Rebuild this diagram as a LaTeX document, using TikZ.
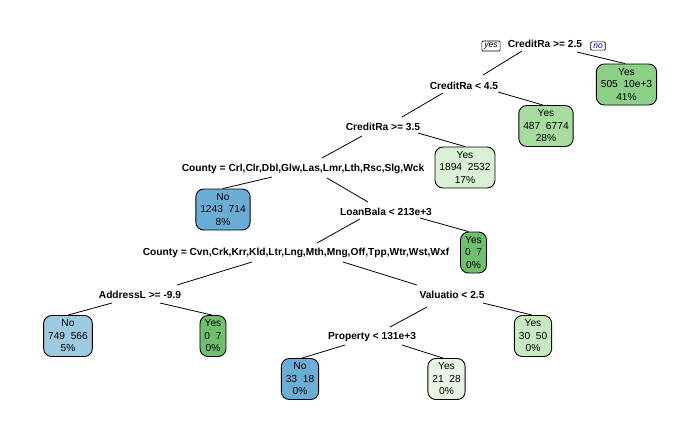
\documentclass[tikz,border=0pt]{standalone}
\usepackage{fontspec}
\setmainfont{Liberation Sans}
\usetikzlibrary{calc}
\definecolor{gA}{HTML}{8CCF86}
\definecolor{gB}{HTML}{A8DBA0}
\definecolor{gC}{HTML}{DAF0D4}
\definecolor{gD}{HTML}{6FBF6F}
\definecolor{gE}{HTML}{C7E9C0}
\definecolor{gF}{HTML}{E8F5E3}
\definecolor{bA}{HTML}{6AAED6}
\definecolor{bB}{HTML}{9ECAE1}
\tikzset{
  split/.style={font=\fontsize{10.2}{12}\selectfont\bfseries, inner sep=0pt},
  leaf/.style={draw=black, line width=0.9pt, rounded corners=8pt, align=center,
    font=\fontsize{10.2}{12.5}\selectfont, inner xsep=4.5pt, minimum height=41pt, inner ysep=2pt},
  tag/.style={draw=black, line width=0.7pt, rounded corners=1pt, font=\fontsize{8.5}{9}\itshape,
    inner xsep=2.5pt, inner ysep=1.8pt},
  edge/.style={line width=0.8pt, black}
}
\begin{document}
\begin{tikzpicture}[x=1pt,y=-1pt]
\useasboundingbox (0,0) rectangle (700,432);
% split labels
\node[split] (root) at (545,44) {CreditRa >= 2.5};
\node[tag] (yes) at (491,46) {yes};
\node[tag, text=blue!60!black] (no) at (598,46) {no};
\node[split] (n2) at (464,86) {CreditRa < 4.5};
\node[split] (n3) at (383,127) {CreditRa >= 3.5};
\node[split] (n4) at (303,169) {County = Crl,Clr,Dbl,Glw,Las,Lmr,Lth,Rsc,Slg,Wck};
\node[split] (n5) at (386,212) {LoanBala < 213e+3};
\node[split] (n6) at (296,253) {County = Cvn,Crk,Krr,Kld,Ltr,Lng,Mth,Mng,Off,Tpp,Wtr,Wst,Wxf};
\node[split] (n7) at (140,295) {AddressL >= -9.9};
\node[split] (n8) at (452,295) {Valuatio < 2.5};
\node[split] (n9) at (372,337) {Property < 131e+3};
% leaves
\node[leaf, fill=gA] (L1) at (626.5,84.5) {Yes\\505\ \ 10e+3\\41\%};
\node[leaf, fill=gB] (L2) at (546,126) {Yes\\487\ \ 6774\\28\%};
\node[leaf, fill=gC] (L3) at (465,167.5) {Yes\\1894\ \ 2532\\17\%};
\node[leaf, fill=bA] (L4) at (223,209.5) {No\\1243\ \ 714\\8\%};
\node[leaf, fill=gD] (L5) at (473.5,252.5) {Yes\\0\ \ 7\\0\%};
\node[leaf, fill=bB] (L6) at (68,336) {No\\749\ \ 566\\5\%};
\node[leaf, fill=gD] (L7) at (213,336) {Yes\\0\ \ 7\\0\%};
\node[leaf, fill=gE] (L8) at (533,336) {Yes\\30\ \ 50\\0\%};
\node[leaf, fill=bA] (L9) at (300,379) {No\\33\ \ 18\\0\%};
\node[leaf, fill=gF] (L10) at (446.5,379) {Yes\\21\ \ 28\\0\%};
% edges
\draw[edge] ($(root)+(-23,7)$) -- ($(n2)+(19,-11)$);
\draw[edge] ($(root)+(32,8)$) -- ([xshift=-1.5pt]L1.north);
\draw[edge] ($(n2)+(34,6)$) -- ([xshift=-3pt]L2.north);
\draw[edge] ($(n2)+(-21,7)$) -- ($(n3)+(19,-10)$);
\draw[edge] ($(n3)+(35,6)$) -- (L3.north);
\draw[edge] ($(n3)+(-21,9)$) -- ($(n4)+(19,-11)$);
\draw[edge] ($(n4)+(-31,8)$) -- (L4.north);
\draw[edge] ($(n4)+(24,9)$) -- ($(n5)+(-18,-10)$);
\draw[edge] ($(n5)+(34,6)$) -- ([xshift=-5pt]L5.north);
\draw[edge] ($(n5)+(-26,7)$) -- ($(n6)+(21,-10)$);
\draw[edge] ($(n6)+(-44,9)$) -- ($(n7)+(37,-10)$);
\draw[edge] ($(n6)+(47,9)$) -- ($(n8)+(-35,-10)$);
\draw[edge] ($(n7)+(-28,8)$) -- (L6.north);
\draw[edge] ($(n7)+(20,8)$) -- ([xshift=-1pt]L7.north);
\draw[edge] ($(n8)+(31,8)$) -- ([xshift=-1pt]L8.north);
\draw[edge] ($(n8)+(-25,12)$) -- ($(n9)+(18,-10)$);
\draw[edge] ($(n9)+(-27,8)$) -- ([xshift=2pt]L9.north);
\draw[edge] ($(n9)+(30,8)$) -- ([xshift=-3.5pt]L10.north);
\end{tikzpicture}
\end{document}
